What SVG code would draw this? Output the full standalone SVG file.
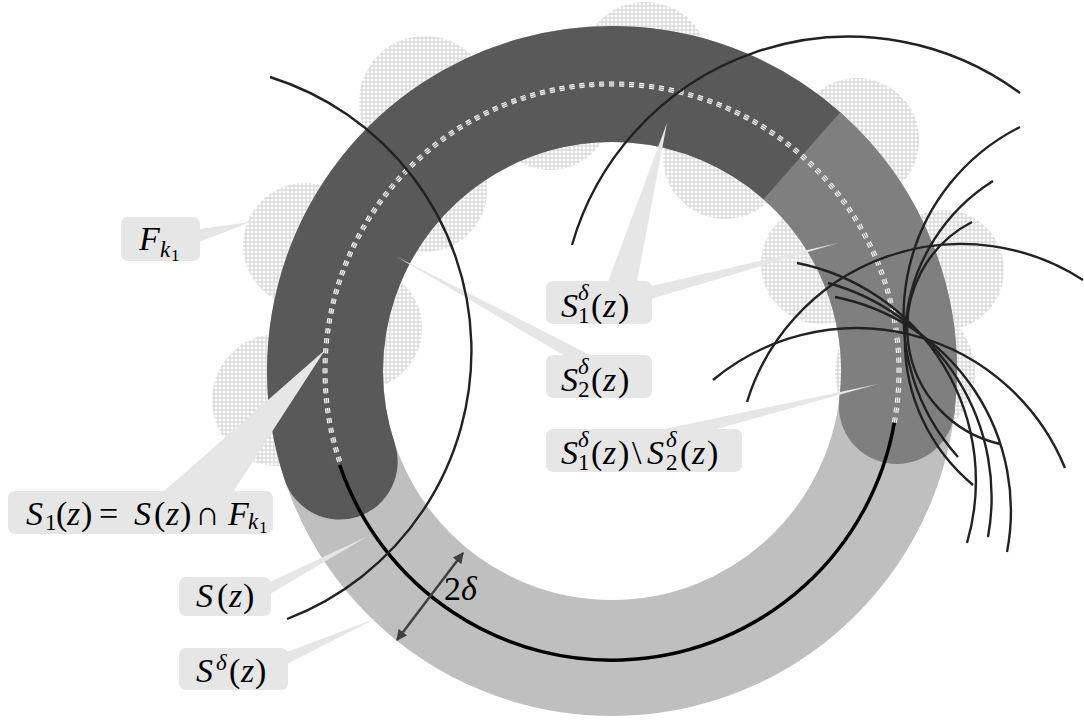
<svg xmlns="http://www.w3.org/2000/svg" width="1084" height="722" viewBox="0 0 1084 722">
<defs>
<pattern id="hatch" width="4" height="4" patternUnits="userSpaceOnUse">
<rect width="4" height="4" fill="#ffffff"/>
<path d="M0 2H4M2 0V4" stroke="#cacaca" stroke-width="0.9"/>
</pattern>
<marker id="ah" viewBox="0 0 10 10" refX="9" refY="5" markerWidth="4.4" markerHeight="4.4" orient="auto-start-reverse">
<path d="M0,0 L10,5 L0,10 z" fill="#404040"/>
</marker>
</defs>
<style>
.hc{fill:url(#hatch)}
.band{fill:none;stroke-width:116}
.c{fill:none;stroke:#222222;stroke-width:2.4}
.co{fill:#e7e6e6}
.t{font-family:"Liberation Serif","DejaVu Serif",serif;font-size:34px;fill:#000}
.i{font-style:italic}
.s2{font-size:23px}
.s3{font-size:17px}
</style>
<rect width="1084" height="722" fill="#ffffff"/>

<g id="F-circles">
<circle class="hc" cx="645" cy="66" r="64"/>
<circle class="hc" cx="425" cy="102" r="66"/>
<circle class="hc" cx="550" cy="108" r="62"/>
<circle class="hc" cx="725" cy="157" r="62"/>
<circle class="hc" cx="857" cy="140" r="62"/>
<circle class="hc" cx="425" cy="190" r="62"/>
<circle class="hc" cx="305" cy="245" r="62"/>
<circle class="hc" cx="360" cy="328" r="62"/>
<circle class="hc" cx="278" cy="400" r="66"/>
<circle class="hc" cx="821" cy="264" r="60"/>
<circle class="hc" cx="944" cy="270" r="60"/>
<circle class="hc" cx="905" cy="372" r="70"/>
</g>

<g id="ring">
<circle class="band" cx="612" cy="371" r="287" stroke="#bfbfbf"/>
<path class="band" d="M339.7,461.6 A287,287 0 0 1 801.8,155.7" stroke="#595959" stroke-linecap="round"/>
<path class="band" d="M801.8,155.7 A287,287 0 0 1 896.9,406" stroke="#7f7f7f"/>
<circle cx="896.9" cy="406" r="58" fill="#7f7f7f"/>
<path d="M339.7,461.6 A287,287 0 1 1 894.3,422.8" fill="none" stroke="#ffffff" stroke-width="5" stroke-dasharray="5 5"/>
<path d="M339.7,461.6 A287,287 0 1 1 894.3,422.8" fill="none" stroke="#9a9a9a" stroke-width="3" stroke-dasharray="5 5"/>
<path d="M339.7,461.6 A287,287 0 1 1 894.3,422.8" fill="none" stroke="#ffffff" stroke-width="1" stroke-dasharray="5 5"/>
<path id="Sz" d="M339.7,465 A287,287 0 0 0 894.3,422.8" fill="none" stroke="#000000" stroke-width="3.5"/>
</g>

<g id="label-Fk1">
<polygon class="co" points="199,229 199,242 251,222"/>
<rect class="co" x="121" y="217" width="79" height="44" rx="7"/>
<text class="t"><tspan class="i" x="139" y="250">F</tspan><tspan class="i s2" x="160" y="257">k</tspan><tspan class="s3" x="171" y="261">1</tspan></text>
</g>

<g id="label-S1">
<polygon class="co" points="163,492 233,492 325,350"/>
<rect class="co" x="8" y="491" width="265" height="43" rx="7"/>
<text class="t"><tspan class="i" x="26" y="525">S</tspan><tspan class="s2" x="45" y="530">1</tspan><tspan x="56" y="525">(</tspan><tspan class="i" x="67" y="525">z</tspan><tspan x="81" y="525">)</tspan><tspan x="99" y="525">=</tspan><tspan class="i" x="134" y="525">S</tspan><tspan x="154" y="525">(</tspan><tspan class="i" x="166" y="525">z</tspan><tspan x="180" y="525">)</tspan><tspan x="195" y="525">∩</tspan><tspan class="i" x="228" y="525">F</tspan><tspan class="i s2" x="248" y="529">k</tspan><tspan class="s3" x="259" y="533">1</tspan></text>
</g>

<g id="label-Sz">
<polygon class="co" points="270,582 270,594 368,536"/>
<rect class="co" x="179" y="577" width="92" height="39" rx="7"/>
<text class="t"><tspan class="i" x="196" y="607">S</tspan><tspan x="217" y="607">(</tspan><tspan class="i" x="229" y="607">z</tspan><tspan x="243" y="607">)</tspan></text>
</g>

<g id="label-Sdz">
<polygon class="co" points="287,652 287,664 377,618"/>
<rect class="co" x="179" y="648" width="109" height="42" rx="7"/>
<text class="t"><tspan class="i" x="196" y="682">S</tspan><tspan class="i s2" x="216" y="670">δ</tspan><tspan x="229" y="682">(</tspan><tspan class="i" x="241" y="682">z</tspan><tspan x="255" y="682">)</tspan></text>
</g>

<g id="label-S1d">
<polygon class="co" points="608,282 637,282 667,123"/>
<polygon class="co" points="651,286 651,299 838,243"/>
<rect class="co" x="546" y="281" width="106" height="43" rx="7"/>
<text class="t"><tspan class="i" x="561" y="317">S</tspan><tspan class="i s2" x="578" y="300">δ</tspan><tspan class="s2" x="578" y="323">1</tspan><tspan x="591" y="317">(</tspan><tspan class="i" x="603" y="317">z</tspan><tspan x="618" y="317">)</tspan></text>
</g>

<g id="label-S2d">
<polygon class="co" points="565,356 592,356 397,257"/>
<rect class="co" x="546" y="355" width="106" height="43" rx="7"/>
<text class="t"><tspan class="i" x="561" y="391">S</tspan><tspan class="i s2" x="578" y="374">δ</tspan><tspan class="s2" x="578" y="397">2</tspan><tspan x="591" y="391">(</tspan><tspan class="i" x="603" y="391">z</tspan><tspan x="618" y="391">)</tspan></text>
</g>

<g id="label-S1d-S2d">
<polygon class="co" points="660,430 713,430 878,384"/>
<rect class="co" x="546" y="429" width="196" height="43" rx="7"/>
<text class="t"><tspan class="i" x="561" y="464">S</tspan><tspan class="i s2" x="578" y="447">δ</tspan><tspan class="s2" x="578" y="470">1</tspan><tspan x="591" y="464">(</tspan><tspan class="i" x="603" y="464">z</tspan><tspan x="618" y="464">)</tspan><tspan x="632" y="464">\</tspan><tspan class="i" x="647" y="464">S</tspan><tspan class="i s2" x="666" y="447">δ</tspan><tspan class="s2" x="666" y="470">2</tspan><tspan x="680" y="464">(</tspan><tspan class="i" x="692" y="464">z</tspan><tspan x="707" y="464">)</tspan></text>
</g>

<g id="connectors">
<path class="c" d="M270,77 A287,287 0 0 1 287,619" stroke-width="2"/>
<path class="c" d="M572,245 A288,288 0 0 1 1020,93" stroke-width="2"/>
<path class="c" d="M1020,127 A211,211 0 0 0 958,457"/>
<path class="c" d="M993,181 A188,188 0 0 0 973,485"/>
<path class="c" d="M972,222 A119,119 0 0 0 1000,444"/>
<path class="c" d="M797,263 A222,222 0 0 1 967,543"/>
<path class="c" d="M828,283 A222,222 0 0 1 988,537"/>
<path class="c" d="M835,297 A218,218 0 0 1 1007,552"/>
<path class="c" d="M747,402 A224,224 0 0 1 1083,280"/>
<path class="c" d="M713,380 A225,225 0 0 1 1065,468"/>
</g>

<g id="width-2delta">
<line x1="463" y1="553" x2="397" y2="640" stroke="#404040" stroke-width="2.5" marker-start="url(#ah)" marker-end="url(#ah)"/>
<text class="t"><tspan x="444" y="600">2</tspan><tspan class="i" x="461" y="600">δ</tspan></text>
</g>
</svg>
